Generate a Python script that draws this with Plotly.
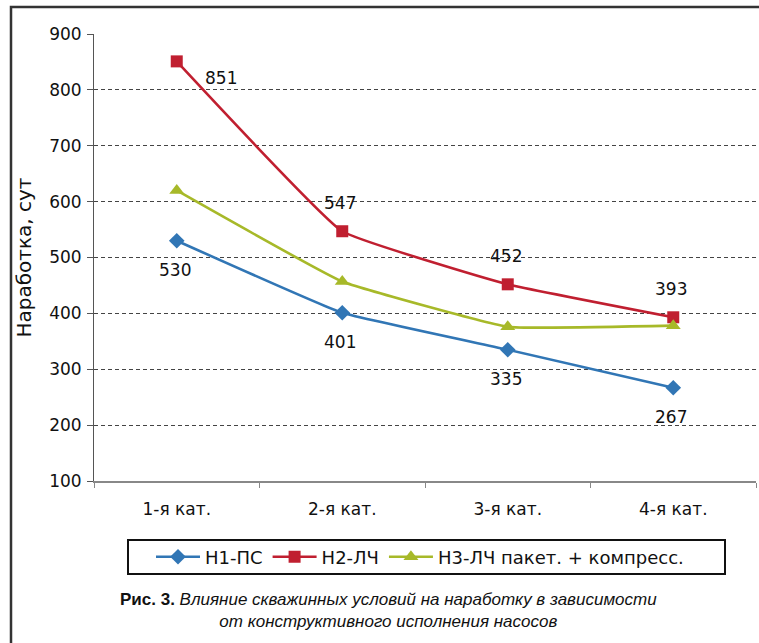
import plotly.graph_objects as go

categories = ["1-я кат.", "2-я кат.", "3-я кат.", "4-я кат."]
h1_ps = [530, 401, 335, 267]
h2_lch = [851, 547, 452, 393]
h3_lch = [620, 457, 376, 378]
series_names = ["Н1-ПС", "Н2-ЛЧ", "Н3-ЛЧ пакет. + компресс."]
y_ticks = [100, 200, 300, 400, 500, 600, 700, 800, 900]

FONT = "DejaVu Sans, Liberation Sans, Arial, sans-serif"
BLUE = "#3176B5"
RED = "#C01F30"
GREEN = "#A7B929"
SMOOTH = 0.3

# plot-area pixel geometry helpers (for layout placement only)
PL, PR, PT, PB = 94, 756, 34, 481
def px_x(px):
    return (px - PL) / (PR - PL)
def px_y(py):
    return (PB - py) / (PB - PT)

fig = go.Figure()
fig.add_trace(go.Scatter(x=categories, y=h1_ps, name=series_names[0], mode="lines+markers",
                         line=dict(color=BLUE, width=2.6, shape="spline", smoothing=SMOOTH),
                         marker=dict(symbol="diamond", size=12, color=BLUE)))
fig.add_trace(go.Scatter(x=categories, y=h2_lch, name=series_names[1], mode="lines+markers",
                         line=dict(color=RED, width=2.6, shape="spline", smoothing=SMOOTH),
                         marker=dict(symbol="square", size=12, color=RED)))
fig.add_trace(go.Scatter(x=categories, y=h3_lch, name=series_names[2], mode="lines+markers",
                         line=dict(color=GREEN, width=2.6, shape="spline", smoothing=SMOOTH),
                         marker=dict(symbol="triangle-up", size=13, color=GREEN)))

LABEL_FONT = dict(family=FONT, size=17, color="#111")
annotations = []
for c, v in zip(categories, h1_ps):
    annotations.append(dict(x=c, y=v, xref="x", yref="y", text=str(v), showarrow=False,
                            yshift=-29, xshift=-2, font=LABEL_FONT))
for i, (c, v) in enumerate(zip(categories, h2_lch)):
    if i == 0:
        annotations.append(dict(x=c, y=v, xref="x", yref="y", text=str(v), showarrow=False,
                                yshift=-17, xshift=44, font=LABEL_FONT))
    else:
        annotations.append(dict(x=c, y=v, xref="x", yref="y", text=str(v), showarrow=False,
                                yshift=28, xshift=-2, font=LABEL_FONT))

annotations.append(dict(x=px_x(388), y=px_y(588), xref="paper", yref="paper",
                        showarrow=False, xanchor="center", yanchor="top", align="center",
                        text="<b>Рис. 3.</b> <i>Влияние скважинных условий на наработку в зависимости</i><br><i>от конструктивного исполнения насосов</i>",
                        font=dict(family="Liberation Sans Narrow, Liberation Sans, Arial", size=17, color="#111")))

fig.update_layout(
    width=759, height=643,
    margin=dict(l=PL, r=759 - PR, t=PT, b=643 - PB),
    paper_bgcolor="white", plot_bgcolor="white",
    font=dict(family=FONT, size=17, color="#111"),
    showlegend=True,
    legend=dict(orientation="h", x=px_x(420), xanchor="center", y=px_y(557), yanchor="middle",
                borderwidth=0, bgcolor="rgba(0,0,0,0)", itemwidth=44,
                font=dict(family=FONT, size=18, color="#111")),
    annotations=annotations,
    xaxis=dict(type="category", showline=True, linecolor="#888", linewidth=2,
               ticks="outside", tickson="boundaries", ticklen=5, tickcolor="#888",
               showgrid=False, tickfont=dict(family=FONT, size=17, color="#111"),
               ticklabelstandoff=12, range=[-0.5, 3.5]),
    yaxis=dict(range=[100, 900], tickvals=y_ticks, showline=True, linecolor="#555", linewidth=1,
               ticks="outside", ticklen=6, tickcolor="#555",
               showgrid=True, gridcolor="#444", griddash="4px,3px", gridwidth=1,
               zeroline=False, tickfont=dict(family=FONT, size=17, color="#111"),
               ticklabelstandoff=2,
               title=dict(text="Наработка, сут", font=dict(family=FONT, size=20, color="#111"), standoff=12)),
    shapes=[
        dict(type="rect", xref="paper", yref="paper",
             x0=px_x(11), x1=1.2, y0=-0.5, y1=px_y(7),
             line=dict(color="#333", width=2.5), fillcolor="rgba(0,0,0,0)", layer="below"),
        dict(type="rect", xref="paper", yref="paper",
             x0=px_x(128), x1=px_x(725), y0=px_y(574), y1=px_y(540),
             line=dict(color="#111", width=2), fillcolor="rgba(0,0,0,0)", layer="below"),
    ],
)

fig.write_html("out.html")
